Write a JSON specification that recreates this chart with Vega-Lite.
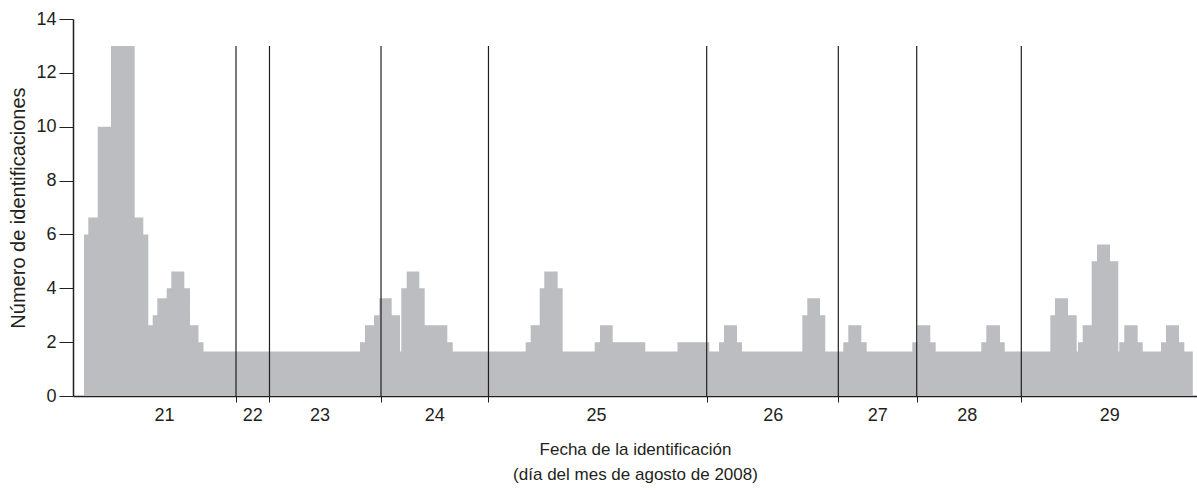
{
  "$schema": "https://vega.github.io/schema/vega-lite/v6.json",
  "width": 1124,
  "height": 377,
  "autosize": {"type": "none"},
  "padding": {"left": 73, "top": 19, "right": 0, "bottom": 97},
  "background": "white",
  "config": {
    "view": {"stroke": null},
    "font": "Liberation Sans",
    "axis": {"labelFont": "Liberation Sans", "titleFont": "Liberation Sans", "labelColor": "#231f20", "titleColor": "#231f20", "titleFontWeight": "normal", "domainColor": "#231f20", "tickColor": "#231f20", "grid": false, "zindex": 1}
  },
  "datasets": {
    "bars": [
      {"t": 0, "n": 6}, {"t": 0.93, "n": 6.63}, {"t": 2.97, "n": 10}, {"t": 5.84, "n": 13},
      {"t": 10.97, "n": 6.63}, {"t": 12.84, "n": 6}, {"t": 13.92, "n": 2.63}, {"t": 14.87, "n": 3},
      {"t": 15.87, "n": 3.63}, {"t": 17.9, "n": 4}, {"t": 18.9, "n": 4.62}, {"t": 21.71, "n": 4},
      {"t": 22.94, "n": 2.63}, {"t": 24.78, "n": 2}, {"t": 25.87, "n": 1.65},
      {"t": 59.74, "n": 2}, {"t": 60.82, "n": 2.63}, {"t": 62.77, "n": 3}, {"t": 63.92, "n": 3.63},
      {"t": 66.6, "n": 3}, {"t": 68.4, "n": 1.65}, {"t": 68.68, "n": 4}, {"t": 69.85, "n": 4.62},
      {"t": 72.58, "n": 4}, {"t": 73.74, "n": 2.63}, {"t": 78.64, "n": 2}, {"t": 79.81, "n": 1.65},
      {"t": 95.61, "n": 2}, {"t": 96.69, "n": 2.63}, {"t": 98.64, "n": 4}, {"t": 99.63, "n": 4.62},
      {"t": 102.53, "n": 4}, {"t": 103.61, "n": 1.65}, {"t": 110.54, "n": 2}, {"t": 111.69, "n": 2.63},
      {"t": 114.44, "n": 2}, {"t": 121.49, "n": 1.65}, {"t": 128.46, "n": 2}, {"t": 135.35, "n": 1.65},
      {"t": 137.45, "n": 2}, {"t": 138.53, "n": 2.63}, {"t": 141.34, "n": 2}, {"t": 142.42, "n": 1.65},
      {"t": 155.48, "n": 3}, {"t": 156.56, "n": 3.63}, {"t": 159.31, "n": 3}, {"t": 160.45, "n": 1.65},
      {"t": 164.35, "n": 2}, {"t": 165.43, "n": 2.63}, {"t": 168.25, "n": 2}, {"t": 169.41, "n": 1.65},
      {"t": 179.29, "n": 2}, {"t": 180.37, "n": 2.63}, {"t": 183.18, "n": 2}, {"t": 184.35, "n": 1.65},
      {"t": 194.22, "n": 2}, {"t": 195.3, "n": 2.63}, {"t": 198.27, "n": 2}, {"t": 199.29, "n": 1.65},
      {"t": 209.16, "n": 3}, {"t": 210.17, "n": 3.63}, {"t": 212.99, "n": 3}, {"t": 214.87, "n": 1.65},
      {"t": 215.15, "n": 2}, {"t": 216.17, "n": 2.63}, {"t": 218.12, "n": 5}, {"t": 219.26, "n": 5.63},
      {"t": 222.08, "n": 5}, {"t": 223.87, "n": 1.65}, {"t": 224.09, "n": 2}, {"t": 225.17, "n": 2.63},
      {"t": 228.07, "n": 2}, {"t": 229.16, "n": 1.65}, {"t": 233.12, "n": 2}, {"t": 234.2, "n": 2.63},
      {"t": 237.01, "n": 2}, {"t": 238.16, "n": 1.65}, {"t": 240, "n": 1.65}
    ],
    "dividers": [
      {"t": 32.9}, {"t": 40.15}, {"t": 64.29}, {"t": 87.55}, {"t": 134.78}, {"t": 163.27}, {"t": 180.24}, {"t": 202.88}
    ]
  },
  "layer": [
    {
      "data": {"name": "bars"},
      "mark": {"type": "area", "interpolate": "step-after", "color": "#bcbdc1", "opacity": 1},
      "encoding": {
        "x": {
          "field": "t", "type": "quantitative",
          "scale": {"domain": [-2.38, 240.91], "nice": false, "zero": false},
          "axis": {
            "values": [32.9, 40.15, 64.29, 87.55, 134.78, 163.27, 180.24, 202.88, 17.3, 36.4, 51, 75.8, 110.8, 149.1, 171.7, 191.1, 221.9],
            "labelExpr": "datum.value == 17.3 ? '21' : datum.value == 36.4 ? '22' : datum.value == 51 ? '23' : datum.value == 75.8 ? '24' : datum.value == 110.8 ? '25' : datum.value == 149.1 ? '26' : datum.value == 171.7 ? '27' : datum.value == 191.1 ? '28' : datum.value == 221.9 ? '29' : ''",
            "tickOpacity": {"condition": {"test": "indexof([17.3,36.4,51,75.8,110.8,149.1,171.7,191.1,221.9], datum.value) >= 0", "value": 0}, "value": 1},
            "tickSize": 6,
            "labelPadding": 4,
            "labelFontSize": 18,
            "labelOverlap": false,
            "labelFlush": false,
            "domainWidth": 1.5,
            "tickWidth": 1,
            "title": ["Fecha de la identificación", "(día del mes de agosto de 2008)"],
            "titleFontSize": 17,
            "titleLineHeight": 25,
            "titlePadding": 17
          }
        },
        "y": {
          "field": "n", "type": "quantitative",
          "scale": {"domain": [0, 14], "nice": false},
          "axis": {
            "values": [0, 2, 4, 6, 8, 10, 12, 14],
            "tickSize": 14,
            "labelPadding": 3,
            "labelFontSize": 18,
            "domainWidth": 1.5,
            "title": "Número de identificaciones",
            "titleFontSize": 20,
            "titlePadding": 7
          }
        }
      }
    },
    {
      "data": {"name": "dividers"},
      "mark": {"type": "rule", "color": "#231f20", "strokeWidth": 1.2},
      "encoding": {
        "x": {"field": "t", "type": "quantitative"},
        "y": {"datum": 0},
        "y2": {"datum": 13}
      }
    }
  ]
}
